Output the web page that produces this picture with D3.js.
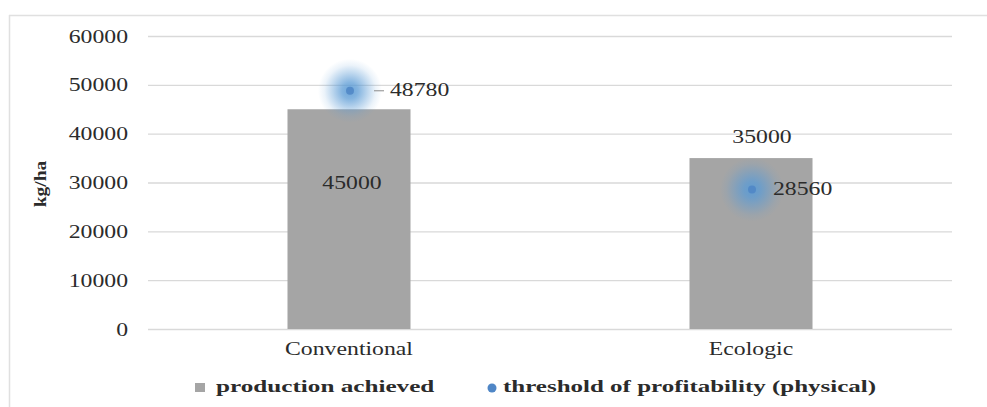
<!DOCTYPE html>
<html>
<head>
<meta charset="utf-8">
<script src="https://cdn.jsdelivr.net/npm/d3@7"></script>
<style>
  html, body { margin: 0; padding: 0; background: #fff; }
  svg { display: block; }
</style>
</head>
<body>
<svg id="chart" width="987" height="407"></svg>
<script>
// ---- data ----
const categories = ["Conventional", "Ecologic"];
const production = [45000, 35000];
const threshold = [48780, 28560];
const yTicks = [0, 10000, 20000, 30000, 40000, 50000, 60000];
const seriesNames = ["production achieved", "threshold of profitability (physical)"];
const yTitle = "kg/ha";

// ---- layout / style ----
const W = 987, H = 407;
const plot = { left: 148, right: 952, top: 36, bottom: 329 };
const barColor = "#a5a5a5";
const gridColor = "#d9d9d9";
const dotColor = "#4f86c6";
const glowColor = "#5b9bd5";
const textColor = "#2b2b2b";
const serif = "'Liberation Serif', 'Times New Roman', serif";
const stretch = 1.32;

// label placement tweaks (pixels)
const prodLabelDx = [3, 11];
const prodLabelDy = [80, -15];
const thrLabelDx = [40, 21];
const thrLeader = [true, false];

const svg = d3.select("#chart");

const y = d3.scaleLinear().domain([0, 60000]).range([plot.bottom, plot.top]);
const x = d3.scaleBand().domain(categories)
  .range([plot.left, plot.right]).paddingInner(0.694).paddingOuter(0.347);

// glow gradient
const defs = svg.append("defs");
const rg = defs.append("radialGradient").attr("id", "glow");
rg.append("stop").attr("offset", "0%").attr("stop-color", glowColor).attr("stop-opacity", 0.9);
rg.append("stop").attr("offset", "25%").attr("stop-color", glowColor).attr("stop-opacity", 0.75);
rg.append("stop").attr("offset", "55%").attr("stop-color", glowColor).attr("stop-opacity", 0.4);
rg.append("stop").attr("offset", "80%").attr("stop-color", glowColor).attr("stop-opacity", 0.12);
rg.append("stop").attr("offset", "100%").attr("stop-color", glowColor).attr("stop-opacity", 0);

// outer frame (top and left edges visible)
svg.append("line").attr("x1", 9).attr("x2", W).attr("y1", 15.5).attr("y2", 15.5)
  .attr("stroke", "#e0e0e0").attr("stroke-width", 1.5);
svg.append("line").attr("x1", 9.5).attr("x2", 9.5).attr("y1", 15).attr("y2", H)
  .attr("stroke", "#e0e0e0").attr("stroke-width", 1.5);

// helper: horizontally stretched text
function stext(parent, px, py, txt, opts = {}) {
  const s = opts.stretch || stretch;
  const g = parent.append("g").attr("transform", `translate(${px},${py})`);
  g.append("text")
    .attr("transform", `scale(${s},1)`)
    .attr("text-anchor", opts.anchor || "start")
    .attr("font-family", serif)
    .attr("font-size", opts.size || 18)
    .attr("font-weight", opts.weight || "normal")
    .attr("fill", textColor)
    .text(txt);
  return g;
}

// y axis with gridlines
const yAxis = d3.axisLeft(y).tickValues(yTicks).tickFormat(d3.format("d"))
  .tickSize(-(plot.right - plot.left)).tickPadding(0);
const ga = svg.append("g").attr("transform", `translate(${plot.left},0)`).call(yAxis);
ga.select(".domain").remove();
ga.selectAll(".tick line").attr("stroke", gridColor).attr("stroke-width", 1.3);
ga.selectAll(".tick text")
  .attr("font-family", serif).attr("font-size", 18).attr("fill", textColor)
  .attr("x", -20 / stretch).attr("dy", "0.34em")
  .attr("transform", `scale(${stretch},1)`);

// y title
const yt = svg.append("g").attr("transform", "translate(46,184) rotate(-90)");
yt.append("text").attr("transform", "scale(1.18,1)")
  .attr("text-anchor", "middle")
  .attr("font-family", serif).attr("font-size", 16.5).attr("font-weight", "bold")
  .attr("fill", textColor).text(yTitle);

// bars
svg.append("g").selectAll("rect").data(categories).join("rect")
  .attr("x", d => x(d)).attr("width", x.bandwidth())
  .attr("y", (d, i) => y(production[i]))
  .attr("height", (d, i) => y(0) - y(production[i]))
  .attr("fill", barColor);

// bar labels
categories.forEach((c, i) => {
  stext(svg, x(c) + x.bandwidth() / 2 + prodLabelDx[i], y(production[i]) + prodLabelDy[i],
    String(production[i]), { anchor: "middle" });
});

// threshold points with glow
categories.forEach((c, i) => {
  const cx = x(c) + x.bandwidth() / 2 + 1, cy = y(threshold[i]);
  svg.append("circle").attr("cx", cx).attr("cy", cy).attr("r", 32).attr("fill", "url(#glow)");
  svg.append("circle").attr("cx", cx).attr("cy", cy).attr("r", 4)
    .attr("fill", dotColor).attr("opacity", 0.85);
  if (thrLeader[i]) {
    svg.append("line").attr("x1", cx + 24).attr("x2", cx + 34).attr("y1", cy).attr("y2", cy)
      .attr("stroke", "#8a8a8a").attr("stroke-width", 1);
  }
  stext(svg, cx + thrLabelDx[i], cy + 5, String(threshold[i]));
});

// category labels
categories.forEach((c) => {
  stext(svg, x(c) + x.bandwidth() / 2, 355, c, { anchor: "middle" });
});

// legend
svg.append("rect").attr("x", 195).attr("y", 383).attr("width", 10).attr("height", 9).attr("fill", barColor);
stext(svg, 216, 392, seriesNames[0], { size: 17, weight: "bold", stretch: 1.48 });
svg.append("circle").attr("cx", 492).attr("cy", 388).attr("r", 4.5).attr("fill", dotColor);
stext(svg, 503, 392, seriesNames[1], { size: 17, weight: "bold", stretch: 1.47 });
</script>
</body>
</html>
